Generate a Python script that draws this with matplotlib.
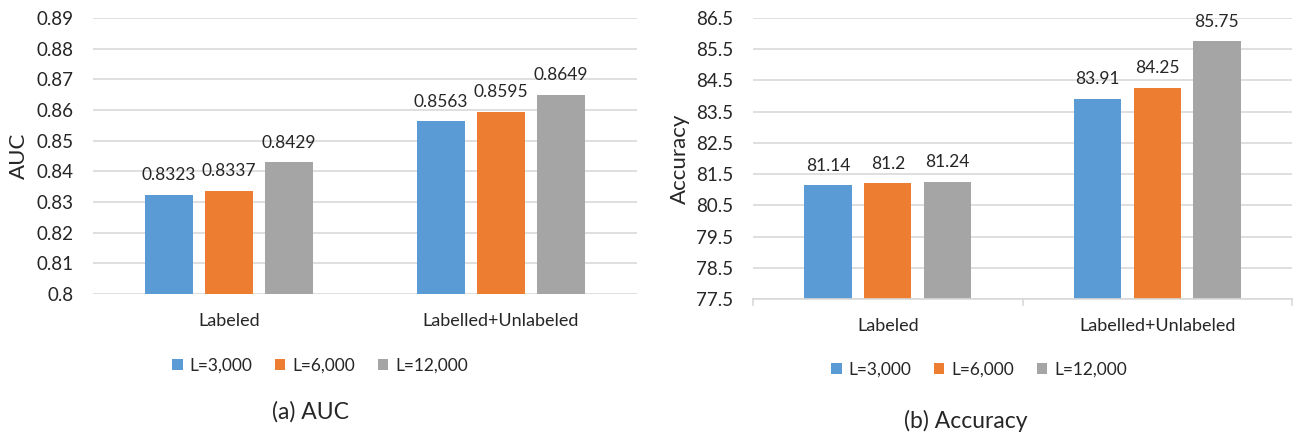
import matplotlib
matplotlib.use("Agg")
import matplotlib.pyplot as plt
import numpy as np
from matplotlib.patches import Patch

plt.rcParams['font.family'] = ['Lato', 'DejaVu Sans']

categories = ["Labeled", "Labelled+Unlabeled"]
series_names = ["L=3,000", "L=6,000", "L=12,000"]
colors = ["#5B9BD5", "#ED7D31", "#A5A5A5"]

auc_values = [
    [0.8323, 0.8563],   # L=3,000
    [0.8337, 0.8595],   # L=6,000
    [0.8429, 0.8649],   # L=12,000
]
auc_labels = [["0.8323", "0.8563"], ["0.8337", "0.8595"], ["0.8429", "0.8649"]]
auc_ticks = [0.8, 0.81, 0.82, 0.83, 0.84, 0.85, 0.86, 0.87, 0.88, 0.89]
auc_tick_labels = ["0.8", "0.81", "0.82", "0.83", "0.84", "0.85", "0.86", "0.87", "0.88", "0.89"]

acc_values = [
    [81.14, 83.91],
    [81.2, 84.25],
    [81.24, 85.75],
]
acc_labels = [["81.14", "83.91"], ["81.2", "84.25"], ["81.24", "85.75"]]
acc_ticks = [77.5, 78.5, 79.5, 80.5, 81.5, 82.5, 83.5, 84.5, 85.5, 86.5]
acc_tick_labels = ["77.5", "78.5", "79.5", "80.5", "81.5", "82.5", "83.5", "84.5", "85.5", "86.5"]

W, H = 1298, 433
fig = plt.figure(figsize=(W / 100, H / 100), dpi=100)
fig.patch.set_facecolor("white")

text_color = "#262626"
grid_color = "#D9D9D9"
bar_w = 0.176
step = 0.221


def draw_panel(rect, values, labels, ticks, tick_labels, ylabel, caption,
               legend_xy, caption_xy, ylabel_x, axis_line):
    ax = fig.add_axes(rect)
    x = np.arange(len(categories))
    span = ticks[-1] - ticks[0]
    for i, (vals, name) in enumerate(zip(values, series_names)):
        pos = x + (i - 1) * step
        ax.bar(pos, np.array(vals) - ticks[0], bottom=ticks[0], width=bar_w,
               color=colors[i], zorder=3, label=name)
        for p, v, lab in zip(pos, vals, labels[i]):
            ax.text(p, v + span * 0.042, lab, ha="center",
                    va="bottom", fontsize=12.5, color=text_color, zorder=4)
    ax.set_xlim(-0.5, len(categories) - 0.5)
    ax.set_ylim(ticks[0], ticks[-1])
    ax.set_yticks(ticks)
    ax.set_yticklabels(tick_labels, fontsize=13.5, color=text_color)
    ax.set_xticks(x)
    ax.set_xticklabels(categories, fontsize=13, color=text_color)
    ax.tick_params(axis="y", length=0, pad=14)
    ax.tick_params(axis="x", length=0, pad=14)
    ax.yaxis.grid(True, color=grid_color, linewidth=1.2, zorder=0)
    for s in ["top", "right", "left"]:
        ax.spines[s].set_visible(False)
    if axis_line:
        ax.spines["bottom"].set_color(grid_color)
        ax.spines["bottom"].set_linewidth(1.2)
        ax.spines["bottom"].set_zorder(5)
        for xb in [-0.5, 0.5, 1.5]:
            ax.plot([xb, xb], [0, -0.022], transform=ax.get_xaxis_transform(),
                    color=grid_color, lw=1.2, clip_on=False)
    else:
        ax.spines["bottom"].set_visible(False)
    ax.set_axisbelow(True)

    fig.text(ylabel_x, rect[1] + rect[3] / 2, ylabel, rotation=90,
             ha="center", va="center", fontsize=16, color=text_color)

    handles = [Patch(facecolor=c, label=n) for c, n in zip(colors, series_names)]
    fig.legend(handles=handles, loc="center", bbox_to_anchor=legend_xy,
               ncol=3, frameon=False, fontsize=12.5, handlelength=0.6,
               handleheight=0.6, handletextpad=0.4, columnspacing=1.3,
               labelcolor=text_color)
    fig.text(caption_xy[0], caption_xy[1], caption, ha="center", va="center",
             fontsize=16.5, color=text_color)
    return ax


left_rect = [93 / W, 1 - 294 / H, (637 - 93) / W, (294 - 18) / H]
right_rect = [753 / W, 1 - 299 / H, (1292 - 753) / W, (299 - 18) / H]

draw_panel(left_rect, auc_values, auc_labels, auc_ticks, auc_tick_labels,
           "AUC", "(a) AUC", (320 / W, 1 - 366 / H), (310 / W, 1 - 412 / H),
           19 / W, False)
draw_panel(right_rect, acc_values, acc_labels, acc_ticks, acc_tick_labels,
           "Accuracy", "(b) Accuracy", (979 / W, 1 - 370 / H),
           (966 / W, 1 - 421 / H), 680 / W, True)

fig.savefig("out.png", dpi=100, facecolor="white")
